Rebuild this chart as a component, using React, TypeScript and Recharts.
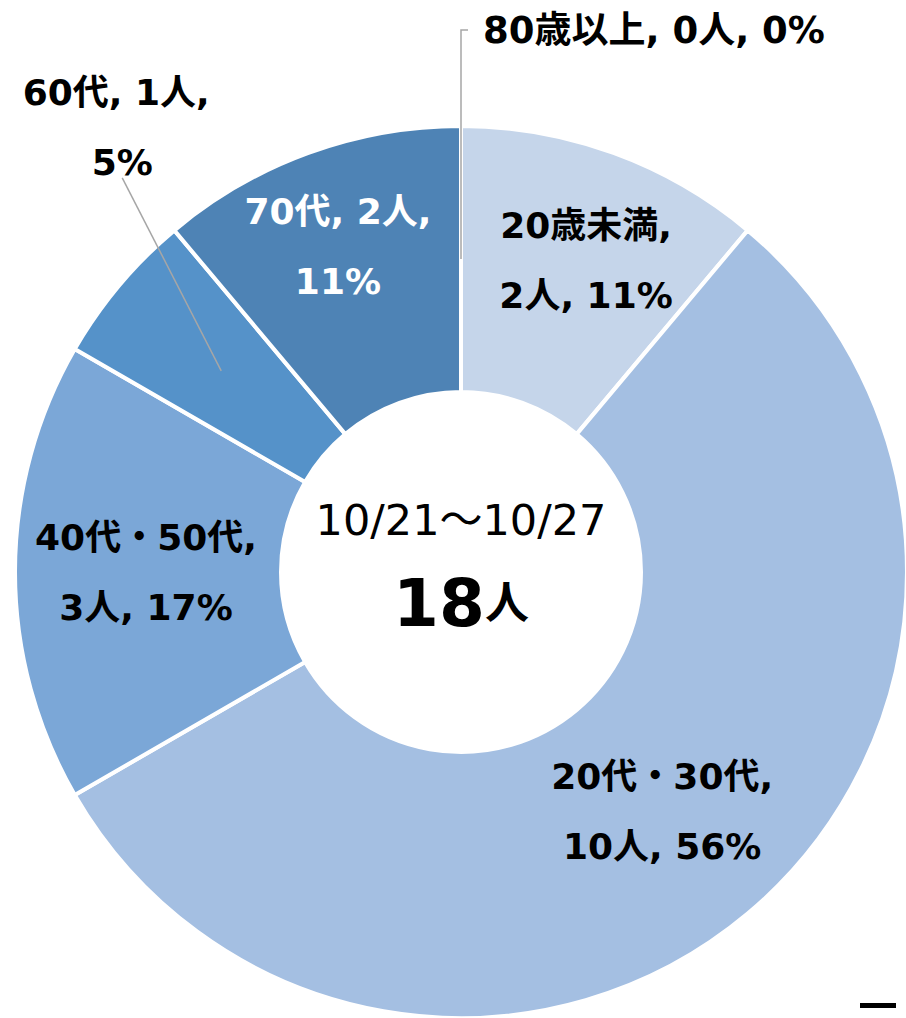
import { Pie, PieChart, Cell } from "recharts";

const ageGroups = ["20歳未満", "20代・30代", "40代・50代", "60代", "70代", "80歳以上"];
const counts = [2, 10, 3, 1, 2, 0];
const percents = [11, 56, 17, 5, 11, 0];
const periodLabel = "10/21～10/27";
const totalCount = 18;

const colors = ["#C5D5EA", "#A4BFE2", "#7BA7D7", "#5592C9", "#4E83B5", "#3F6E9C"];
const textColors = ["#000", "#000", "#000", "#000", "#fff", "#000"];

const PIE_CX = 461;
const PIE_CY = 572;

// label placement relative to ring middle (style only)
const labelOffsets = [
  { dx: 18, dy: -17 },
  { dx: 0, dy: 0 },
  { dx: -2, dy: 0 },
  { dx: -105, dy: -243 },
  { dx: -16, dy: -31 },
  { dx: 0, dy: 0 },
];
// whether "N人" goes on the first line
const countOnFirstLine = [false, false, false, true, true, true];

const data = ageGroups.map((name, i) => ({ name, value: counts[i], pct: percents[i] }));

const FONT = "'DejaVu Sans', 'Noto Sans CJK JP', sans-serif";
const LABEL_SIZE = 36;
const RAD = Math.PI / 180;

function renderLabel(props: any) {
  const { cx, cy, midAngle, innerRadius, outerRadius, index } = props;
  const d = data[index];
  const r = (innerRadius + outerRadius) / 2;
  const ax = cx + r * Math.cos(-midAngle * RAD);
  const ay = cy + r * Math.sin(-midAngle * RAD);
  const off = labelOffsets[index];
  const fill = textColors[index];

  if (d.value === 0) {
    // tiny slice: leader goes straight up, then text to the right
    const topY = 30;
    return (
      <g key={`lbl-${index}`}>
        <polyline
          points={`${ax},${ay} ${ax},${topY} ${ax + 7},${topY}`}
          fill="none"
          stroke="#A6A6A6"
          strokeWidth={1.5}
        />
        <text
          x={ax + 22}
          y={topY}
          dominantBaseline="central"
          fontFamily={FONT}
          fontWeight="bold"
          fontSize={37}
          fill={fill}
        >
          {`${d.name}, ${d.value}人, ${d.pct}%`}
        </text>
      </g>
    );
  }

  const lx = ax + off.dx;
  const ly = ay + off.dy;
  const outside = index === 3;
  const first = countOnFirstLine[index];
  return (
    <g key={`lbl-${index}`}>
      {outside ? (
        <line x1={ax} y1={ay} x2={lx + 6} y2={ly + 50} stroke="#A6A6A6" strokeWidth={1.5} />
      ) : null}
      <text
        x={lx}
        y={ly}
        textAnchor="middle"
        fontFamily={FONT}
        fontWeight="bold"
        fontSize={LABEL_SIZE}
        fill={fill}
      >
        <tspan x={lx} y={ly - 35} dominantBaseline="central">
          {first ? `${d.name}, ${d.value}人,` : `${d.name},`}
        </tspan>
        <tspan x={outside ? lx + 6 : lx} y={ly + 35} dominantBaseline="central">
          {first ? `${d.pct}%` : `${d.value}人, ${d.pct}%`}
        </tspan>
      </text>
    </g>
  );
}

export default function App() {
  return (
    <div style={{ position: "absolute", left: 0, top: 0, width: 906, height: 1018, background: "#fff" }}>
      <PieChart width={906} height={1018} margin={{ top: 0, right: 0, bottom: 0, left: 0 }}>
        <Pie
          data={data}
          dataKey="value"
          nameKey="name"
          cx={PIE_CX}
          cy={PIE_CY}
          innerRadius={180}
          outerRadius={446}
          startAngle={90}
          endAngle={-270}
          stroke="#fff"
          strokeWidth={4}
          label={renderLabel}
          labelLine={false}
          isAnimationActive={false}
        >
          {data.map((d, i) => (
            <Cell key={d.name} fill={colors[i]} />
          ))}
        </Pie>
      </PieChart>
      <svg
        width={906}
        height={1018}
        style={{ position: "absolute", left: 0, top: 0, pointerEvents: "none" }}
      >
        <text
          x={PIE_CX}
          y={PIE_CY - 52}
          textAnchor="middle"
          dominantBaseline="central"
          fontFamily={FONT}
          fontSize={43}
          fill="#000"
        >
          {periodLabel}
        </text>
        <text
          x={PIE_CX}
          y={PIE_CY + 31}
          textAnchor="middle"
          dominantBaseline="central"
          fontFamily={FONT}
          fontWeight="bold"
          fill="#000"
        >
          <tspan fontSize={66}>{totalCount}</tspan>
          <tspan fontSize={44}>人</tspan>
        </text>
      </svg>
      <div style={{ position: "absolute", left: 860, top: 1003, width: 36, height: 5, background: "#000" }} />
    </div>
  );
}
